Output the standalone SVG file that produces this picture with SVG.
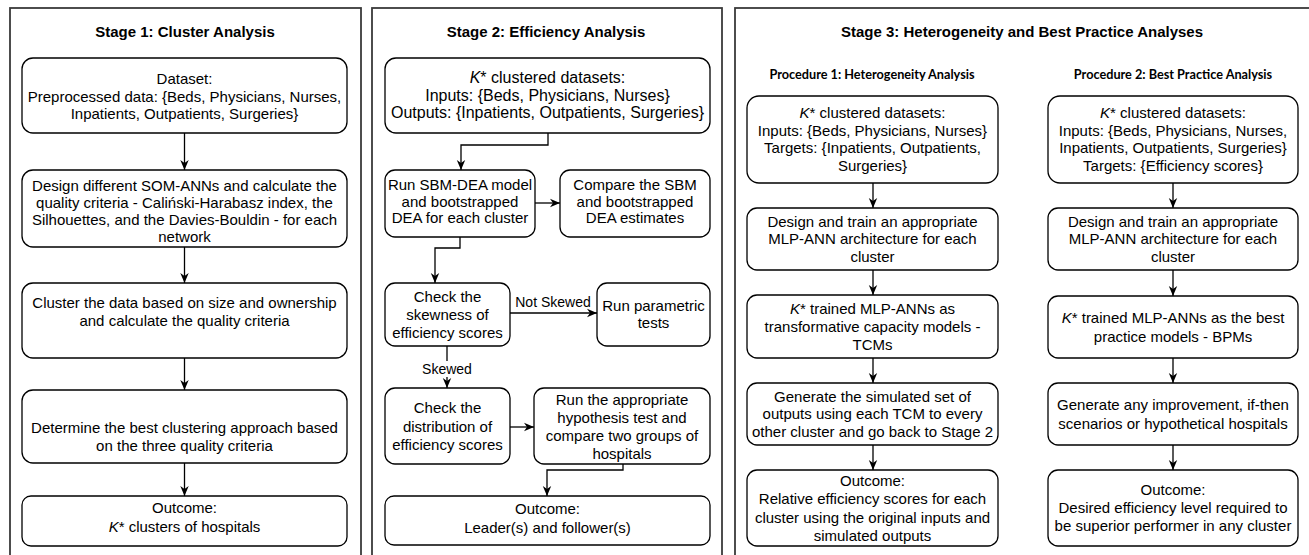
<svg xmlns="http://www.w3.org/2000/svg" width="1309" height="555" viewBox="0 0 1309 555">
<style>
.panel{fill:none;stroke:#3a3a3a;stroke-width:1.8}
.box{fill:#fff;stroke:#000;stroke-width:1.3}
.t{font-family:"Liberation Sans",Arial,sans-serif;font-size:15px;fill:#000;text-anchor:middle}
.big{font-size:16px}
.lbl{font-family:"Liberation Sans",Arial,sans-serif;font-size:14px;fill:#000;text-anchor:middle}
.title{font-family:"Liberation Sans",Arial,sans-serif;font-size:15px;font-weight:bold;fill:#000;text-anchor:middle}
.proc{font-family:Lato,"Open Sans",sans-serif;font-size:12.7px;font-weight:bold;fill:#000;text-anchor:middle}
.c{fill:none;stroke:#000;stroke-width:1.3}
.i{font-style:italic}
</style>
<defs>
<marker id="ah" viewBox="0 0 10 10" refX="10" refY="5" markerWidth="10" markerHeight="10" markerUnits="userSpaceOnUse" orient="auto">
<path d="M0,0.8 L10,5 L0,9.2 L3,5 z" fill="#000"/>
</marker>
</defs>
<rect width="1309" height="555" fill="#fff"/>

<g id="panels">
<rect class="panel" x="10" y="8" width="351" height="570"/>
<rect class="panel" x="372" y="8" width="350" height="570"/>
<rect class="panel" x="735" y="8" width="600" height="570"/>
<text class="title" x="185" y="37">Stage 1: Cluster Analysis</text>
<text class="title" x="546" y="37">Stage 2: Efficiency Analysis</text>
<text class="title" x="1022" y="37">Stage 3: Heterogeneity and Best Practice Analyses</text>
<text class="proc" x="872" y="79">Procedure 1: Heterogeneity Analysis</text>
<text class="proc" x="1173" y="79">Procedure 2: Best Practice Analysis</text>
</g>

<g id="connectors">
<line class="c" x1="184.5" y1="133" x2="184.5" y2="170" marker-end="url(#ah)"/>
<line class="c" x1="184.5" y1="247" x2="184.5" y2="283" marker-end="url(#ah)"/>
<line class="c" x1="184.5" y1="358" x2="184.5" y2="390" marker-end="url(#ah)"/>
<line class="c" x1="184.5" y1="463" x2="184.5" y2="496" marker-end="url(#ah)"/>

<polyline class="c" points="548,133 548,145 461,145 461,170" marker-end="url(#ah)"/>
<line class="c" x1="535" y1="203" x2="560" y2="203" marker-end="url(#ah)"/>
<polyline class="c" points="460,237 460,248 435,248 435,283" marker-end="url(#ah)"/>
<line class="c" x1="510" y1="313" x2="597" y2="313" marker-end="url(#ah)"/>
<text class="lbl" x="553" y="307">Not Skewed</text>
<line class="c" x1="447" y1="346" x2="447" y2="388" marker-end="url(#ah)"/>
<rect x="424" y="361" width="46" height="16" fill="#fff"/>
<text class="lbl" x="447" y="374">Skewed</text>
<line class="c" x1="510" y1="427" x2="534" y2="427" marker-end="url(#ah)"/>
<polyline class="c" points="623,464 623,470 547,470 547,496" marker-end="url(#ah)"/>

<line class="c" x1="873" y1="183" x2="873" y2="208" marker-end="url(#ah)"/>
<line class="c" x1="873" y1="270" x2="873" y2="295" marker-end="url(#ah)"/>
<line class="c" x1="873" y1="358" x2="873" y2="383" marker-end="url(#ah)"/>
<line class="c" x1="873" y1="445" x2="873" y2="470" marker-end="url(#ah)"/>

<line class="c" x1="1173" y1="183" x2="1173" y2="208" marker-end="url(#ah)"/>
<line class="c" x1="1173" y1="270" x2="1173" y2="296" marker-end="url(#ah)"/>
<line class="c" x1="1173" y1="358" x2="1173" y2="383" marker-end="url(#ah)"/>
<line class="c" x1="1173" y1="445" x2="1173" y2="470" marker-end="url(#ah)"/>
</g>

<g id="s1-dataset">
<rect class="box" x="22" y="58" width="325" height="75" rx="11"/>
<text class="t" x="184.5" y="84">Dataset:</text>
<text class="t" x="184.5" y="101.5">Preprocessed data: {Beds, Physicians, Nurses,</text>
<text class="t" x="184.5" y="119">Inpatients, Outpatients, Surgeries}</text>
</g>
<g id="s1-som">
<rect class="box" x="22" y="170" width="325" height="77" rx="11"/>
<text class="t" x="184.5" y="191">Design different SOM-ANNs and calculate the</text>
<text class="t" x="184.5" y="208">quality criteria - Caliński-Harabasz index, the</text>
<text class="t" x="184.5" y="225">Silhouettes, and the Davies-Bouldin - for each</text>
<text class="t" x="184.5" y="242">network</text>
</g>
<g id="s1-cluster">
<rect class="box" x="22" y="283" width="325" height="75" rx="11"/>
<text class="t" x="184.5" y="308">Cluster the data based on size and ownership</text>
<text class="t" x="184.5" y="326">and calculate the quality criteria</text>
</g>
<g id="s1-best">
<rect class="box" x="22" y="390" width="325" height="73" rx="11"/>
<text class="t" x="184.5" y="433">Determine the best clustering approach based</text>
<text class="t" x="184.5" y="451">on the three quality criteria</text>
</g>
<g id="s1-outcome">
<rect class="box" x="22" y="496" width="325" height="50" rx="9"/>
<text class="t" x="184.5" y="513">Outcome:</text>
<text class="t" x="184.5" y="532"><tspan class="i">K</tspan>* clusters of hospitals</text>
</g>

<g id="s2-data">
<rect class="box" x="385" y="58" width="325" height="75" rx="11"/>
<text class="t big" x="547.5" y="83"><tspan class="i">K</tspan>* clustered datasets:</text>
<text class="t big" x="547.5" y="100.5">Inputs: {Beds, Physicians, Nurses}</text>
<text class="t big" x="547.5" y="118">Outputs: {Inpatients, Outpatients, Surgeries}</text>
</g>
<g id="s2-sbm">
<rect class="box" x="385" y="170" width="150" height="67" rx="10"/>
<text class="t" x="460" y="190">Run SBM-DEA model</text>
<text class="t" x="460" y="207">and bootstrapped</text>
<text class="t" x="460" y="223">DEA for each cluster</text>
</g>
<g id="s2-compare">
<rect class="box" x="560" y="170" width="150" height="67" rx="10"/>
<text class="t" x="635" y="190">Compare the SBM</text>
<text class="t" x="635" y="207">and bootstrapped</text>
<text class="t" x="635" y="223">DEA estimates</text>
</g>
<g id="s2-skew">
<rect class="box" x="385" y="283" width="125" height="63" rx="10"/>
<text class="t" x="447.5" y="302">Check the</text>
<text class="t" x="447.5" y="320">skewness of</text>
<text class="t" x="447.5" y="338">efficiency scores</text>
</g>
<g id="s2-param">
<rect class="box" x="597" y="283" width="113" height="63" rx="10"/>
<text class="t" x="653.5" y="311">Run parametric</text>
<text class="t" x="653.5" y="328">tests</text>
</g>
<g id="s2-dist">
<rect class="box" x="385" y="388" width="125" height="76" rx="10"/>
<text class="t" x="447.5" y="413">Check the</text>
<text class="t" x="447.5" y="432">distribution of</text>
<text class="t" x="447.5" y="450">efficiency scores</text>
</g>
<g id="s2-hypo">
<rect class="box" x="534" y="388" width="176" height="76" rx="10"/>
<text class="t" x="622" y="405">Run the appropriate</text>
<text class="t" x="622" y="423">hypothesis test and</text>
<text class="t" x="622" y="441">compare two groups of</text>
<text class="t" x="622" y="459">hospitals</text>
</g>
<g id="s2-outcome">
<rect class="box" x="385" y="496" width="325" height="49" rx="9"/>
<text class="t" x="547.5" y="514">Outcome:</text>
<text class="t" x="547.5" y="533">Leader(s) and follower(s)</text>
</g>

<g id="p1-data">
<rect class="box" x="747" y="96" width="251" height="87" rx="12"/>
<text class="t" x="872.5" y="118"><tspan class="i">K</tspan>* clustered datasets:</text>
<text class="t" x="872.5" y="136">Inputs: {Beds, Physicians, Nurses}</text>
<text class="t" x="872.5" y="153">Targets: {Inpatients, Outpatients,</text>
<text class="t" x="872.5" y="171">Surgeries}</text>
</g>
<g id="p1-design">
<rect class="box" x="747" y="208" width="251" height="62" rx="10"/>
<text class="t" x="872.5" y="227">Design and train an appropriate</text>
<text class="t" x="872.5" y="244">MLP-ANN architecture for each</text>
<text class="t" x="872.5" y="262">cluster</text>
</g>
<g id="p1-tcm">
<rect class="box" x="747" y="295" width="251" height="63" rx="10"/>
<text class="t" x="872.5" y="314"><tspan class="i">K</tspan>* trained MLP-ANNs as</text>
<text class="t" x="872.5" y="332">transformative capacity models -</text>
<text class="t" x="872.5" y="350">TCMs</text>
</g>
<g id="p1-generate">
<rect class="box" x="747" y="383" width="251" height="62" rx="10"/>
<text class="t" x="872.5" y="402">Generate the simulated set of</text>
<text class="t" x="872.5" y="419">outputs using each TCM to every</text>
<text class="t" x="872.5" y="437">other cluster and go back to Stage 2</text>
</g>
<g id="p1-outcome">
<rect class="box" x="747" y="470" width="251" height="76" rx="10"/>
<text class="t" x="872.5" y="486">Outcome:</text>
<text class="t" x="872.5" y="504">Relative efficiency scores for each</text>
<text class="t" x="872.5" y="523">cluster using the original inputs and</text>
<text class="t" x="872.5" y="541">simulated outputs</text>
</g>

<g id="p2-data">
<rect class="box" x="1048" y="96" width="250" height="87" rx="12"/>
<text class="t" x="1173" y="118"><tspan class="i">K</tspan>* clustered datasets:</text>
<text class="t" x="1173" y="136">Inputs: {Beds, Physicians, Nurses,</text>
<text class="t" x="1173" y="153">Inpatients, Outpatients, Surgeries}</text>
<text class="t" x="1173" y="171">Targets: {Efficiency scores}</text>
</g>
<g id="p2-design">
<rect class="box" x="1048" y="208" width="250" height="62" rx="10"/>
<text class="t" x="1173" y="227">Design and train an appropriate</text>
<text class="t" x="1173" y="244">MLP-ANN architecture for each</text>
<text class="t" x="1173" y="262">cluster</text>
</g>
<g id="p2-bpm">
<rect class="box" x="1048" y="296" width="250" height="62" rx="10"/>
<text class="t" x="1173" y="323"><tspan class="i">K</tspan>* trained MLP-ANNs as the best</text>
<text class="t" x="1173" y="342">practice models - BPMs</text>
</g>
<g id="p2-generate">
<rect class="box" x="1048" y="383" width="250" height="62" rx="10"/>
<text class="t" x="1173" y="410">Generate any improvement, if-then</text>
<text class="t" x="1173" y="429">scenarios or hypothetical hospitals</text>
</g>
<g id="p2-outcome">
<rect class="box" x="1048" y="470" width="250" height="76" rx="10"/>
<text class="t" x="1173" y="495">Outcome:</text>
<text class="t" x="1173" y="513">Desired efficiency level required to</text>
<text class="t" x="1173" y="531">be superior performer in any cluster</text>
</g>
</svg>
